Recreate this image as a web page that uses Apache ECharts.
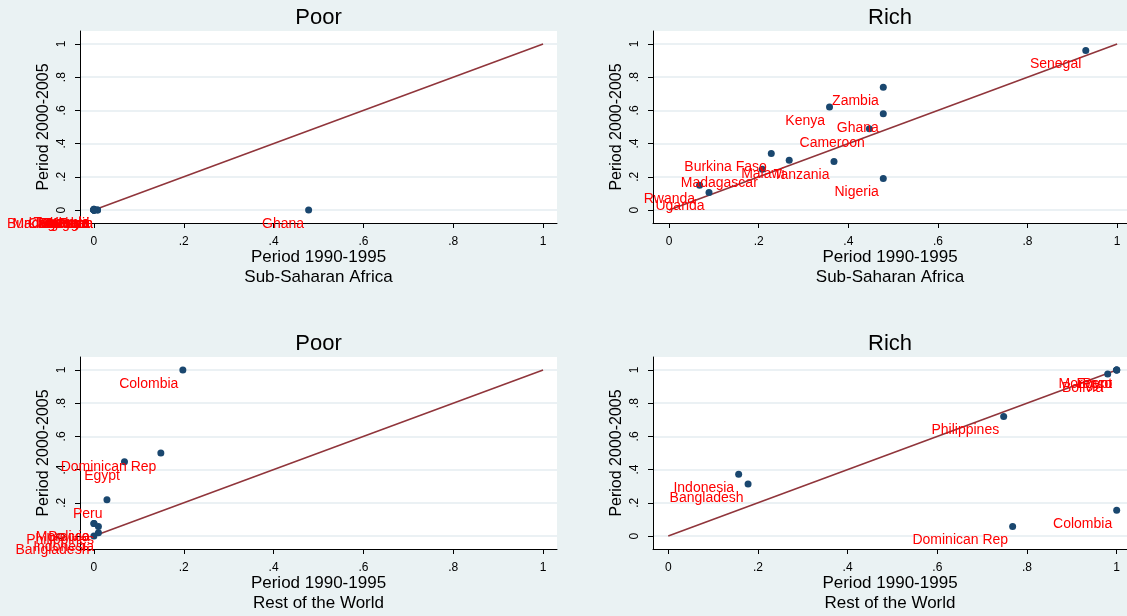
<!DOCTYPE html>
<html lang="en">

<head>
    <meta charset="UTF-8">
    <title>Poor vs Rich</title>
    <script src="https://cdn.jsdelivr.net/npm/echarts@6/dist/echarts.min.js"></script>
    <style>
        html, body { margin: 0; padding: 0; background: #eaf2f3; }
        #main { width: 1127px; height: 616px; }
    </style>
</head>

<body>
    <div id="main"></div>
    <script>
        // tick values and the text stata prints for them
        var tickVals = [0, 0.2, 0.4, 0.6, 0.8, 1];
        var tickText = ['0', '.2', '.4', '.6', '.8', '1'];
        var diag = [0, 1];

        // Sub-Saharan Africa
        var ssaCountries = ['Burkina Faso', 'Cameroon', 'Ghana', 'Kenya', 'Madagascar', 'Malawi',
            'Nigeria', 'Rwanda', 'Senegal', 'Tanzania', 'Uganda', 'Zambia'];
        var ssaPoor90 = [0, 0.008, 0.478, 0, 0, 0, 0.008, 0, 0, 0, 0, 0];
        var ssaPoor00 = [0, 0, 0, 0.005, 0, 0, 0, 0, 0, 0.005, 0, 0];
        var ssaRich90 = [0.228, 0.447, 0.478, 0.358, 0.208, 0.268, 0.478, 0.068, 0.93, 0.368, 0.089, 0.478];
        var ssaRich00 = [0.34, 0.49, 0.58, 0.62, 0.245, 0.30, 0.19, 0.15, 0.96, 0.293, 0.106, 0.74];

        // Rest of the World
        var rowCountries = ['Bangladesh', 'Bolivia', 'Colombia', 'Dominican Rep', 'Egypt', 'Indonesia',
            'Morocco', 'Peru', 'Philippines'];
        var rowPoor90 = [0, 0, 0.198, 0.149, 0.068, 0.01, 0, 0.029, 0.01];
        var rowPoor00 = [0, 0.076, 1.0, 0.50, 0.447, 0.02, 0.076, 0.219, 0.058];
        var rowRich90 = [0.178, 0.98, 1.0, 0.768, 1.0, 0.157, 1.0, 1.0, 0.748];
        var rowRich00 = [0.313, 0.976, 0.155, 0.057, 1.0, 0.372, 1.0, 1.0, 0.72];

        var font = "'Liberation Sans', Arial, sans-serif";

        var panels = [
            { names: ssaCountries, x: ssaPoor90, y: ssaPoor00, grid: { left: 80, top: 31, width: 477, height: 192 }, xmin: -0.031, xmax: 1.031, title: 'Poor', note: 'Sub-Saharan Africa' },
            { names: ssaCountries, x: ssaRich90, y: ssaRich00, grid: { left: 653, top: 31, width: 474, height: 192 }, xmin: -0.036, xmax: 1.022, title: 'Rich', note: 'Sub-Saharan Africa' },
            { names: rowCountries, x: rowPoor90, y: rowPoor00, grid: { left: 80, top: 357, width: 477, height: 192 }, xmin: -0.031, xmax: 1.031, title: 'Poor', note: 'Rest of the World' },
            { names: rowCountries, x: rowRich90, y: rowRich00, grid: { left: 653, top: 357, width: 474, height: 192 }, xmin: -0.034, xmax: 1.023, title: 'Rich', note: 'Rest of the World' }
        ];

        var grids = [], xAxes = [], yAxes = [], series = [], graphics = [];

        panels.forEach(function(p, i) {
            grids.push({
                left: p.grid.left, top: p.grid.top, width: p.grid.width, height: p.grid.height,
                show: true, backgroundColor: '#fff', borderWidth: 0
            });
            xAxes.push({
                gridIndex: i, type: 'value', min: p.xmin, max: p.xmax,
                name: 'Period 1990-1995', nameLocation: 'middle', nameGap: 21,
                nameTextStyle: { color: '#000', fontSize: 17, fontFamily: font },
                axisLine: { show: true, onZero: false, lineStyle: { color: '#000', width: 1 } },
                axisTick: { show: true, length: 5, customValues: tickVals, lineStyle: { color: '#000' } },
                axisLabel: {
                    customValues: tickVals, margin: 13, color: '#000', fontSize: 12, fontFamily: font,
                    formatter: function(v) { return tickText[tickVals.indexOf(Math.round(v * 10) / 10)]; }
                },
                splitLine: { show: false }
            });
            yAxes.push({
                gridIndex: i, type: 'value', min: -0.078, max: 1.078,
                name: 'Period 2000-2005', nameLocation: 'middle', nameGap: 28,
                nameTextStyle: { color: '#000', fontSize: 16, fontFamily: font },
                axisLine: { show: true, onZero: false, lineStyle: { color: '#000', width: 1 } },
                axisTick: { show: true, length: 5, customValues: tickVals, lineStyle: { color: '#000' } },
                axisLabel: {
                    customValues: tickVals, rotate: 90, margin: 12, color: '#000', fontSize: 12, fontFamily: font,
                    formatter: function(v) { return tickText[tickVals.indexOf(Math.round(v * 10) / 10)]; }
                },
                splitLine: { show: false }
            });

            // gridlines at the y ticks (kept under everything else)
            series.push({
                type: 'scatter', xAxisIndex: i, yAxisIndex: i, data: [], z: 0, silent: true,
                markLine: {
                    z: 0, silent: true, symbol: 'none', label: { show: false },
                    lineStyle: { color: '#e4edf0', width: 1.5, type: 'solid' },
                    data: tickVals.map(function(v) { return { yAxis: v }; })
                }
            });

            // 45 degree line
            series.push({
                type: 'line', xAxisIndex: i, yAxisIndex: i, z: 2, silent: true,
                data: diag.map(function(v) { return [v, v]; }),
                symbol: 'none', lineStyle: { color: '#90353b', width: 1.6 }
            });

            // countries, labelled south-west of the marker
            series.push({
                type: 'scatter', xAxisIndex: i, yAxisIndex: i, z: 3,
                symbolSize: 7,
                itemStyle: { color: '#1a476f', opacity: 1 },
                data: p.names.map(function(n, k) { return { name: n, value: [p.x[k], p.y[k]] }; }),
                label: {
                    show: true, position: 'left', distance: 1,
                    formatter: '{b}', color: '#ff0000', fontSize: 14, fontFamily: font,
                    textBorderWidth: 0
                },
                labelLayout: { hideOverlap: false, dy: 14 }
            });

            var cx = p.grid.left + p.grid.width / 2;
            graphics.push({
                type: 'text', x: cx, y: p.grid.top - 13,
                style: { text: p.title, textAlign: 'center', textVerticalAlign: 'middle', fill: '#000', font: '22px ' + font }
            });
            graphics.push({
                type: 'text', x: cx, y: p.grid.top + p.grid.height + 54,
                style: { text: p.note, textAlign: 'center', textVerticalAlign: 'middle', fill: '#000', font: '17px ' + font }
            });
        });

        var myChart = echarts.init(document.getElementById('main'));
        var option = {
            backgroundColor: '#eaf2f3',
            animation: false,
            grid: grids,
            xAxis: xAxes,
            yAxis: yAxes,
            series: series,
            graphic: graphics
        };
        myChart.setOption(option);
    </script>
</body>

</html>
